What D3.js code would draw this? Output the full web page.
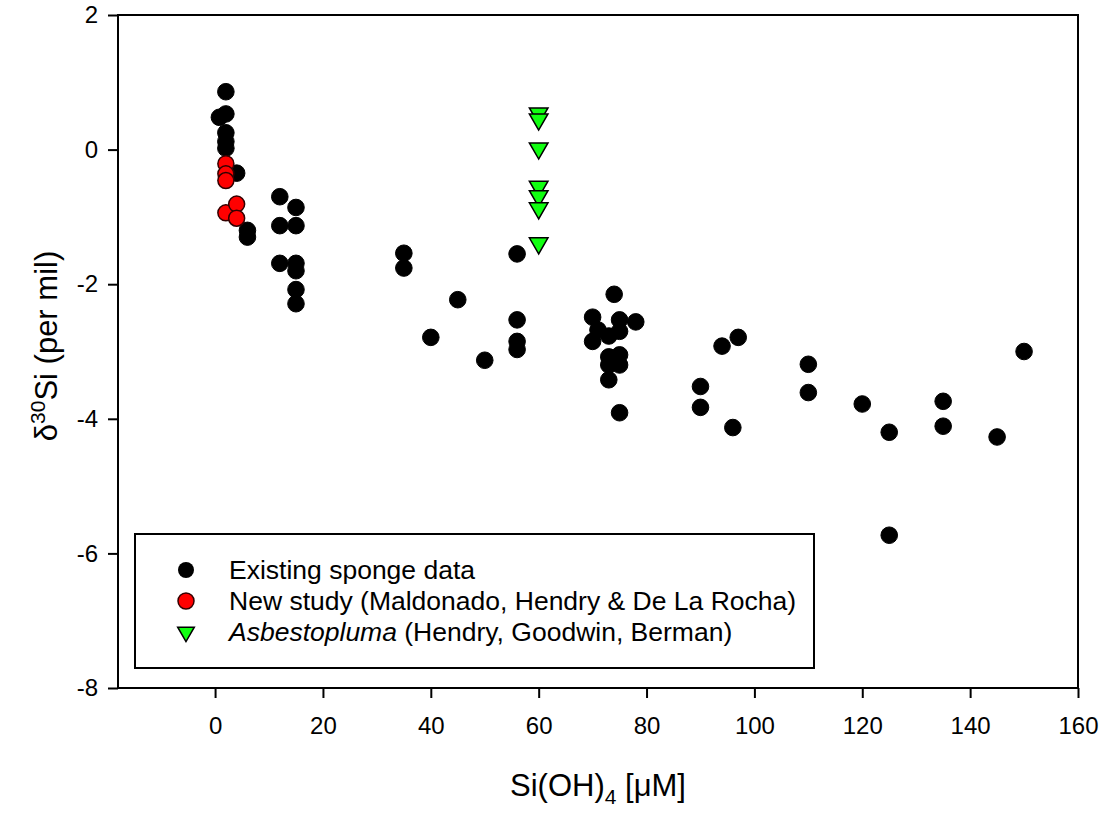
<!DOCTYPE html>
<html>
<head>
<meta charset="utf-8">
<script src="https://cdn.jsdelivr.net/npm/d3@7"></script>
<style>
  body { margin: 0; background: #fff; }
  text { font-family: "Liberation Sans", Arial, sans-serif; fill: #000; }
</style>
</head>
<body>
<div id="chart"></div>
<script>
// Existing sponge data: Si(OH)4 (uM) and d30Si (per mil)
const existingX = [0.8, 2, 2, 2, 2, 2, 4, 6, 6, 12, 12, 12, 15, 15, 15, 15, 15, 15,
  35, 35, 40, 45, 50, 56, 56, 56, 56, 70, 70, 71, 73, 73, 73, 73, 74, 75, 75, 75, 75, 75, 78,
  90, 90, 94, 96, 97, 110, 110, 120, 125, 125, 135, 135, 145, 150];
const existingY = [0.48, 0.86, 0.53, 0.25, 0.12, 0.02, -0.35, -1.2, -1.3, -0.7, -1.13, -1.69,
  -0.86, -1.13, -1.69, -1.8, -2.08, -2.29,
  -1.54, -1.76, -2.79, -2.23, -3.13, -1.55, -2.53, -2.85, -2.97, -2.49, -2.85, -2.68,
  -2.77, -3.08, -3.2, -3.42, -2.15, -2.53, -2.7, -3.05, -3.2, -3.91, -2.56,
  -3.52, -3.83, -2.92, -4.13, -2.79, -3.19, -3.61, -3.78, -4.2, -5.73, -3.74, -4.11, -4.27, -3.0];

// New study (Maldonado, Hendry & De La Rocha)
const newStudyX = [2, 2, 2, 2, 4, 4];
const newStudyY = [-0.21, -0.36, -0.46, -0.94, -0.81, -1.02];

// Asbestopluma (Hendry, Goodwin, Berman)
const asbestoX = [60, 60, 60, 60, 60, 60, 60];
const asbestoY = [0.54, 0.45, 0.02, -0.55, -0.69, -0.87, -1.39];

const xTicks = [0, 20, 40, 60, 80, 100, 120, 140, 160];
const yTicks = [-8, -6, -4, -2, 0, 2];

const width = 1107, height = 813;
const margin = { top: 15, right: 29, bottom: 125, left: 118 };

const svg = d3.select('#chart').append('svg')
  .attr('width', width)
  .attr('height', height);

const x = d3.scaleLinear().domain([-18, 160]).range([margin.left, width - margin.right]);
const y = d3.scaleLinear().domain([-8, 2]).range([height - margin.bottom, margin.top]);

// plot frame
svg.append('rect')
  .attr('x', x(-18)).attr('y', y(2))
  .attr('width', x(160) - x(-18)).attr('height', y(-8) - y(2))
  .attr('fill', 'none').attr('stroke', '#000').attr('stroke-width', 2);

// axes (plain hyphen for negatives, like the original)
const fmt = d => String(d);
const xAxis = svg.append('g')
  .attr('transform', `translate(0,${y(-8)})`)
  .call(d3.axisBottom(x).tickValues(xTicks).tickFormat(fmt).tickSize(10).tickPadding(19));
const yAxis = svg.append('g')
  .attr('transform', `translate(${x(-18)},0)`)
  .call(d3.axisLeft(y).tickValues(yTicks).tickFormat(fmt).tickSize(10).tickPadding(10));

[xAxis, yAxis].forEach(g => {
  g.select('.domain').remove();
  g.selectAll('line').attr('stroke', '#000').attr('stroke-width', 2);
  g.selectAll('text').attr('font-size', 24).attr('font-family', '"Liberation Sans", Arial, sans-serif');
});

// axis titles
const xt = svg.append('text')
  .attr('x', 598).attr('y', 796)
  .attr('text-anchor', 'middle')
  .attr('font-size', 31);
xt.append('tspan').text('Si(OH)');
xt.append('tspan').attr('font-size', 21).attr('dy', 8).text('4');
xt.append('tspan').attr('dy', -8).text(' [\u03BCM]');

const yt = svg.append('text')
  .attr('transform', `translate(57,346) rotate(-90)`)
  .attr('text-anchor', 'middle')
  .attr('font-size', 31);
yt.append('tspan').text('\u03B4');
yt.append('tspan').attr('font-size', 21).attr('dy', -12).text('30');
yt.append('tspan').attr('dy', 12).text('Si (per mil)');

const tri = d3.symbol().type(d3.symbolTriangle).size(150);

// points
svg.append('g').selectAll('circle')
  .data(d3.zip(existingX, existingY))
  .join('circle')
  .attr('cx', d => x(d[0])).attr('cy', d => y(d[1]))
  .attr('r', 8.3)
  .attr('fill', '#000').attr('stroke', '#000');

svg.append('g').selectAll('circle')
  .data(d3.zip(newStudyX, newStudyY))
  .join('circle')
  .attr('cx', d => x(d[0])).attr('cy', d => y(d[1]))
  .attr('r', 8)
  .attr('fill', '#ff0000').attr('stroke', '#300').attr('stroke-width', 1.5);

svg.append('g').selectAll('path')
  .data(d3.zip(asbestoX, asbestoY))
  .join('path')
  .attr('d', tri)
  .attr('transform', d => `translate(${x(d[0])},${y(d[1])}) rotate(180)`)
  .attr('fill', '#11ff11').attr('stroke', '#000').attr('stroke-width', 1.5);

// legend
const legend = svg.append('g');
legend.append('rect')
  .attr('x', 135).attr('y', 534).attr('width', 679).attr('height', 134)
  .attr('fill', '#fff').attr('stroke', '#000').attr('stroke-width', 2);

const legendItems = [
  { label: 'Existing sponge data' },
  { label: 'New study (Maldonado, Hendry & De La Rocha)' },
  { label: 'Asbestopluma', rest: ' (Hendry, Goodwin, Berman)' }
];
legendItems.forEach((d, i) => {
  const cy = 570 + i * 31;
  if (i === 0) {
    legend.append('circle').attr('cx', 186).attr('cy', cy).attr('r', 8).attr('fill', '#000');
  } else if (i === 1) {
    legend.append('circle').attr('cx', 186).attr('cy', cy).attr('r', 8)
      .attr('fill', '#ff0000').attr('stroke', '#300').attr('stroke-width', 1.5);
  } else {
    legend.append('path').attr('d', d3.symbol().type(d3.symbolTriangle).size(120))
      .attr('transform', `translate(186,${cy}) rotate(180)`)
      .attr('fill', '#11ff11').attr('stroke', '#000').attr('stroke-width', 1.5);
  }
  const t = legend.append('text').attr('x', 229).attr('y', cy + 9).attr('font-size', 26.5);
  if (d.rest) {
    t.append('tspan').attr('font-style', 'italic').text(d.label);
    t.append('tspan').text(d.rest);
  } else {
    t.text(d.label);
  }
});
</script>
</body>
</html>
